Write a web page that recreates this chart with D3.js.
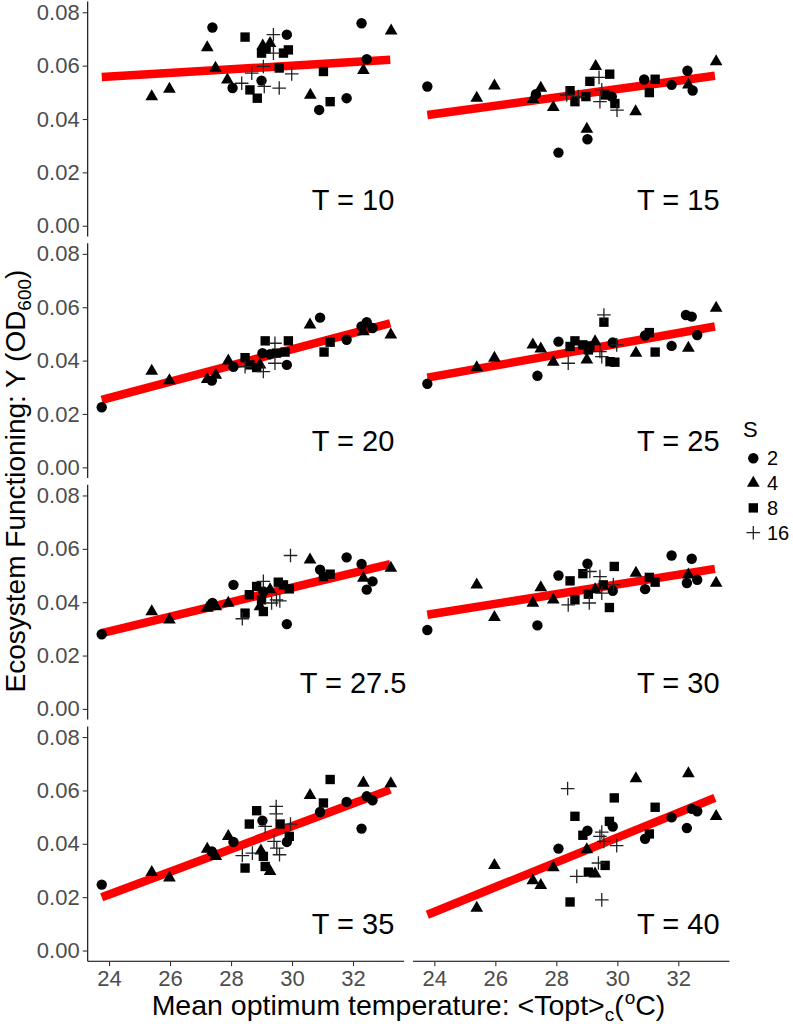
<!DOCTYPE html>
<html><head><meta charset="utf-8">
<script src="https://cdn.jsdelivr.net/npm/d3@7"></script>
<style>body{margin:0;background:#fff}svg{display:block}text{font-family:"Liberation Sans",Arial,sans-serif}</style>
</head><body>
<svg id="c" width="793" height="1024"></svg>
<script>
// ---- data ----
const panelLabels = ["T = 10","T = 15","T = 20","T = 25","T = 27.5","T = 30","T = 35","T = 40"];
const sLevels = [2, 4, 8, 16];
const xTicks = [24, 26, 28, 30, 32];
const yTicks = [0.00, 0.02, 0.04, 0.06, 0.08];

const t10 = [[27.39,0.0743,2],[28.05,0.0516,2],[29.00,0.0544,2],[29.83,0.0716,2],[30.89,0.0434,2],[31.79,0.0478,2],[32.28,0.0759,2],[32.45,0.0624,2],
 [25.40,0.0484,4],[25.98,0.0512,4],[27.22,0.0668,4],[27.49,0.0591,4],[27.88,0.0547,4],[29.04,0.0674,4],[29.28,0.0684,4],[30.60,0.0490,4],[32.34,0.0582,4],[33.25,0.0730,4],
 [28.46,0.0707,8],[28.62,0.0509,8],[28.86,0.0478,8],[29.00,0.0647,8],[29.15,0.0662,8],[29.72,0.0647,8],[29.88,0.0659,8],[29.58,0.0591,8],[31.03,0.0578,8],[31.25,0.0465,8],
 [28.35,0.0534,16],[28.68,0.0572,16],[29.06,0.0597,16],[29.09,0.0522,16],[29.39,0.0716,16],[29.39,0.0647,16],[29.58,0.0516,16],[29.99,0.0569,16]];
const t15 = [[23.77,0.0522,2],[27.33,0.0493,2],[28.07,0.0274,2],[29.02,0.0324,2],[29.82,0.0484,2],[30.88,0.0548,2],[31.78,0.0528,2],[32.30,0.0581,2],[32.47,0.0507,2],
 [25.39,0.0478,4],[25.97,0.0524,4],[27.23,0.0474,4],[27.49,0.0516,4],[27.90,0.0444,4],[29.00,0.0362,4],[29.29,0.0597,4],[30.60,0.0428,4],[32.33,0.0528,4],[33.24,0.0615,4],
 [28.45,0.0506,8],[28.61,0.0465,8],[28.97,0.0484,8],[29.10,0.0541,8],[29.60,0.0490,8],[29.75,0.0568,8],[29.92,0.0458,8],[31.05,0.0499,8],[31.24,0.0549,8],
 [28.34,0.0490,16],[28.72,0.0484,16],[29.40,0.0556,16],[29.49,0.0509,16],[29.43,0.0465,16],[29.99,0.0433,16]];
const t20 = [[23.76,0.0225,2],[27.37,0.0325,2],[28.08,0.0377,2],[29.03,0.0428,2],[29.28,0.0424,2],[29.83,0.0384,2],[30.92,0.0561,2],[31.79,0.0478,2],[32.28,0.0528,2],[32.45,0.0544,2],[32.64,0.0522,2],
 [25.40,0.0361,4],[25.98,0.0325,4],[27.22,0.0330,4],[27.50,0.0346,4],[27.91,0.0399,4],[28.95,0.0384,4],[30.59,0.0534,4],[32.34,0.0509,4],[33.24,0.0497,4],
 [28.46,0.0411,8],[28.62,0.0384,8],[28.84,0.0374,8],[29.12,0.0474,8],[29.49,0.0428,8],[29.77,0.0432,8],[29.88,0.0474,8],[31.05,0.0432,8],[31.25,0.0469,8],
 [28.46,0.0377,16],[29.06,0.0359,16],[29.44,0.0465,16],[29.44,0.0390,16]];
const t25 = [[23.77,0.0313,2],[27.38,0.0343,2],[28.07,0.0471,2],[29.85,0.0468,2],[30.91,0.0494,2],[31.78,0.0455,2],[32.25,0.0571,2],[32.44,0.0565,2],[32.62,0.0496,2],
 [25.39,0.0374,4],[25.97,0.0409,4],[27.23,0.0459,4],[27.49,0.0444,4],[27.90,0.0394,4],[29.00,0.0403,4],[29.27,0.0471,4],[30.61,0.0428,4],[32.33,0.0447,4],[33.24,0.0597,4],
 [28.45,0.0453,8],[28.61,0.0474,8],[28.87,0.0459,8],[29.05,0.0440,8],[29.10,0.0455,8],[29.56,0.0544,8],[29.76,0.0396,8],[29.92,0.0394,8],[31.05,0.0505,8],[31.24,0.0432,8],
 [28.39,0.0390,16],[29.56,0.0571,16],[29.43,0.0434,16],[29.49,0.0415,16],[29.98,0.0459,16]];
const t27_5 = [[23.76,0.0280,2],[27.39,0.0397,2],[28.08,0.0465,2],[29.06,0.0440,2],[29.83,0.0318,2],[30.92,0.0522,2],[31.79,0.0568,2],[32.28,0.0543,2],[32.45,0.0447,2],[32.64,0.0478,2],
 [25.40,0.0365,4],[25.98,0.0334,4],[27.22,0.0378,4],[27.50,0.0384,4],[27.91,0.0397,4],[28.95,0.0384,4],[29.28,0.0447,4],[30.59,0.0559,4],[32.34,0.0490,4],[33.24,0.0528,4],
 [28.46,0.0359,8],[28.60,0.0428,8],[28.84,0.0459,8],[29.00,0.0409,8],[29.06,0.0365,8],[29.55,0.0475,8],[29.72,0.0465,8],[29.91,0.0450,8],[31.03,0.0496,8],[31.25,0.0505,8],
 [28.37,0.0338,16],[29.06,0.0478,16],[29.33,0.0397,16],[29.49,0.0409,16],[29.60,0.0405,16],[29.95,0.0575,16]];
const t30 = [[23.77,0.0296,2],[27.38,0.0313,2],[28.07,0.0500,2],[29.02,0.0544,2],[29.85,0.0443,2],[30.91,0.0449,2],[31.78,0.0575,2],[32.28,0.0472,2],[32.44,0.0563,2],[32.62,0.0484,2],
 [25.39,0.0465,4],[25.97,0.0343,4],[27.23,0.0397,4],[27.49,0.0455,4],[27.90,0.0409,4],[29.27,0.0447,4],[30.61,0.0509,4],[32.33,0.0503,4],[33.24,0.0472,4],
 [28.45,0.0480,8],[28.61,0.0409,8],[28.87,0.0507,8],[29.05,0.0430,8],[29.54,0.0465,8],[29.74,0.0380,8],[29.90,0.0534,8],[31.05,0.0493,8],[31.24,0.0475,8],
 [28.39,0.0390,16],[29.08,0.0397,16],[29.10,0.0515,16],[29.43,0.0496,16],[29.49,0.0434,16],[29.87,0.0465,16]];
const t35 = [[23.76,0.0247,2],[27.37,0.0371,2],[28.08,0.0407,2],[29.03,0.0487,2],[29.83,0.0407,2],[30.92,0.0519,2],[31.79,0.0557,2],[32.28,0.0457,2],[32.45,0.0578,2],[32.64,0.0563,2],
 [25.40,0.0293,4],[25.98,0.0272,4],[27.22,0.0380,4],[27.50,0.0353,4],[27.91,0.0428,4],[28.98,0.0374,4],[29.28,0.0297,4],[30.59,0.0582,4],[32.34,0.0628,4],[33.24,0.0626,4],
 [28.46,0.0309,8],[28.60,0.0474,8],[28.84,0.0524,8],[29.06,0.0353,8],[29.12,0.0315,8],[29.61,0.0474,8],[29.91,0.0428,8],[31.03,0.0553,8],[31.25,0.0641,8],
 [28.37,0.0356,16],[28.70,0.0365,16],[29.12,0.0465,16],[29.48,0.0540,16],[29.48,0.0512,16],[29.41,0.0409,16],[29.50,0.0384,16],[29.59,0.0359,16],[29.95,0.0474,16]];
const t40 = [[28.07,0.0382,2],[29.02,0.0449,2],[29.85,0.0465,2],[30.91,0.0419,2],[31.78,0.0499,2],[32.28,0.0459,2],[32.44,0.0531,2],[32.62,0.0522,2],
 [25.39,0.0159,4],[25.97,0.0319,4],[27.23,0.0262,4],[27.49,0.0244,4],[27.90,0.0311,4],[29.00,0.0378,4],[29.27,0.0287,4],[30.61,0.0644,4],[32.33,0.0663,4],[33.24,0.0503,4],
 [28.45,0.0182,8],[28.61,0.0503,8],[28.87,0.0432,8],[29.05,0.0294,8],[29.60,0.0319,8],[29.74,0.0484,8],[29.90,0.0572,8],[31.05,0.0437,8],[31.24,0.0537,8],
 [28.37,0.0607,16],[28.67,0.0278,16],[29.38,0.0328,16],[29.43,0.0428,16],[29.49,0.0444,16],[29.49,0.0190,16],[29.56,0.0409,16],[29.98,0.0393,16]];
const panelPoints = [t10, t15, t20, t25, t27_5, t30, t35, t40];
// fitted regression lines: [x0, y0, x1, y1]
const fitLines = [[23.76,0.0557,33.22,0.0622],[23.77,0.0415,33.20,0.0562],[23.76,0.0253,33.22,0.0540],[23.77,0.0336,33.20,0.0528],
 [23.76,0.0284,33.22,0.0543],[23.77,0.0353,33.20,0.0525],[23.76,0.0200,33.22,0.0603],[23.77,0.0134,33.20,0.0572]];

// ---- layout ----
const svg = d3.select("#c");
const colRange = [[87.7, 404.1], [413, 729.4]];
const rowTop = [1.6, 243.2, 484.8, 726.4];
const panelH = 234.8;
const xDomain = [23.30, 33.675];
const yDomain = [-0.004, 0.084];
const tickColor = "#4d4d4d";

function drawShape(g, s, x, y) {
  if (s === 2) {
    g.append("circle").attr("cx", x).attr("cy", y).attr("r", 5.2).attr("fill", "#000");
  } else if (s === 4) {
    g.append("path").attr("transform", `translate(${x},${y})`)
      .attr("d", d3.symbol().type(d3.symbolTriangle).size(70)()).attr("fill", "#000");
  } else if (s === 8) {
    g.append("path").attr("transform", `translate(${x},${y})`)
      .attr("d", d3.symbol().type(d3.symbolSquare).size(88)()).attr("fill", "#000");
  } else {
    const h = 6.8;
    g.append("path").attr("d", `M${x-h},${y}H${x+h}M${x},${y-h}V${y+h}`)
      .attr("stroke", "#222").attr("stroke-width", 1.3).attr("fill", "none");
  }
}

panelPoints.forEach((pts, i) => {
  const col = i % 2, row = Math.floor(i / 2);
  const x = d3.scaleLinear().domain(xDomain).range(colRange[col]);
  const y = d3.scaleLinear().domain(yDomain).range([rowTop[row] + panelH, rowTop[row]]);
  const g = svg.append("g");

  if (col === 0) {
    const ya = g.append("g").attr("transform", `translate(${colRange[0][0]},0)`)
      .call(d3.axisLeft(y).tickValues(yTicks).tickFormat(d3.format(".2f")).tickSize(5).tickPadding(3));
    ya.select(".domain").attr("d", `M0,${rowTop[row]}V${rowTop[row] + panelH}`).attr("stroke", "#000").attr("stroke-width", 1.1);
    ya.selectAll(".tick line").attr("stroke", "#333").attr("stroke-width", 1.1);
    ya.selectAll(".tick text").attr("fill", tickColor).style("font-size", "22px").style("font-family", '"Liberation Sans",Arial,sans-serif');
  }
  if (row === 3) {
    const xa = g.append("g").attr("transform", `translate(0,${rowTop[row] + panelH})`)
      .call(d3.axisBottom(x).tickValues(xTicks).tickSize(5).tickPadding(4));
    xa.select(".domain").attr("d", `M${colRange[col][0]},0H${colRange[col][1]}`).attr("stroke", "#000").attr("stroke-width", 1.1);
    xa.selectAll(".tick line").attr("stroke", "#333").attr("stroke-width", 1.1);
    xa.selectAll(".tick text").attr("fill", tickColor).style("font-size", "22px").style("font-family", '"Liberation Sans",Arial,sans-serif');
  }

  const fl = fitLines[i];
  g.append("line").attr("x1", x(fl[0])).attr("y1", y(fl[1])).attr("x2", x(fl[2])).attr("y2", y(fl[3]))
    .attr("stroke", "#ff0000").attr("stroke-width", 8.5);

  const pg = g.append("g");
  pts.forEach(p => drawShape(pg, p[2], x(p[0]), y(p[1])));

  g.append("text").attr("x", x(32)).attr("y", y(0.01) + 10.5).attr("text-anchor", "middle")
    .style("font-size", "29px").attr("fill", "#000").text(panelLabels[i]);
});

// axis titles
const xt = svg.append("text").attr("x", 408.5).attr("y", 1015).attr("text-anchor", "middle")
  .style("font-size", "28.5px").attr("fill", "#000");
xt.append("tspan").text("Mean optimum temperature: <Topt>");
xt.append("tspan").attr("dy", 6).style("font-size", "19px").text("c");
xt.append("tspan").attr("dy", -6).text("(");
xt.append("tspan").attr("dx", 1).attr("dy", -11).style("font-size", "19px").text("o");
xt.append("tspan").attr("dy", 11).text("C)");

const yt = svg.append("text").attr("transform", "translate(25,481) rotate(-90)").attr("text-anchor", "middle")
  .style("font-size", "28px").attr("fill", "#000");
yt.append("tspan").text("Ecosystem Functioning: Y (OD");
yt.append("tspan").attr("dy", 6).style("font-size", "19px").text("600");
yt.append("tspan").attr("dy", -6).text(")");

// legend
const lg = svg.append("g");
lg.append("text").attr("x", 743).attr("y", 437).style("font-size", "22px").attr("fill", "#000").text("S");
sLevels.forEach((s, k) => {
  const cy = 458.3 + k * 24.8;
  drawShape(lg, s, 753.3, cy);
  lg.append("text").attr("x", 767).attr("y", cy + 7).style("font-size", "20px").attr("fill", "#000").text(String(s));
});
</script>
</body></html>
